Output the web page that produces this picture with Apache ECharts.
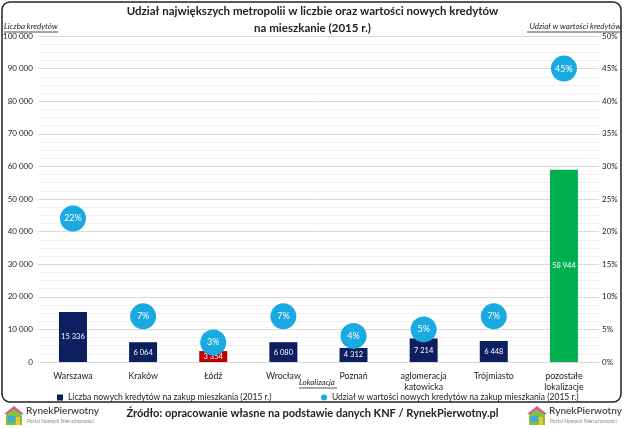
<!DOCTYPE html>
<html>
<head>
<meta charset="utf-8">
<script src="https://cdn.jsdelivr.net/npm/echarts@6/dist/echarts.min.js"></script>
<style>html,body{margin:0;padding:0;background:#fff;}#c{width:625px;height:428px;}</style>
</head>
<body>
<div id="c"></div>
<script>
var categories = ['Warszawa', 'Kraków', 'Łódź', 'Wrocław', 'Poznań', 'aglomeracja\nkatowicka', 'Trójmiasto', 'pozostałe\nlokalizacje'];
var loanCounts = [15336, 6064, 3354, 6080, 4312, 7214, 6448, 58944];
var valueShares = [0.22, 0.07, 0.03, 0.07, 0.04, 0.05, 0.07, 0.45];
var barSeriesName = 'Liczba nowych kredytów na zakup mieszkania (2015 r.)';
var shareSeriesName = 'Udział w wartości nowych kredytów na zakup mieszkania (2015 r.)';
var titleText = 'Udział największych metropolii w liczbie oraz wartości nowych kredytów\nna mieszkanie (2015 r.)';
var sourceText = 'Źródło: opracowanie własne na podstawie danych KNF / RynekPierwotny.pl';

var NAVY = '#0c1f5e', RED = '#c00000', GREEN = '#00b050', BLUE = '#1aaae2';
var barColors = [NAVY, NAVY, RED, NAVY, NAVY, NAVY, NAVY, GREEN];
var FONT = 'Lato';

function fmtNum(v) { return String(Math.round(v)).replace(/\B(?=(\d{3})+(?!\d))/g, ' '); }

function logo(x, y) {
  return {
    type: 'group', left: x, top: y,
    children: [
      { type: 'polygon', shape: { points: [[2, 9], [10, 3], [18, 9], [18, 20], [2, 20]] }, style: { fill: '#7fc241' } },
      { type: 'polygon', shape: { points: [[0, 9], [10, 1], [20, 9], [17, 9], [10, 4], [3, 9]] }, style: { fill: '#e0529c' } },
      { type: 'rect', shape: { x: 4, y: 11, width: 7, height: 6 }, style: { fill: '#3fa9e0' } },
      { type: 'rect', shape: { x: 12, y: 12, width: 4, height: 8 }, style: { fill: '#f3c623' } },
      { type: 'text', left: 22, top: 1, style: { text: 'RynekPierwotny', font: '600 10px ' + FONT, fill: '#444' } },
      { type: 'text', left: 23, top: 14, style: { text: 'Portal Nowych Nieruchomości', font: '5px ' + FONT, fill: '#888' } }
    ]
  };
}

var chart = echarts.init(document.getElementById('c'), null, { renderer: 'canvas' });
chart.setOption({
  animation: false,
  backgroundColor: '#fff',
  textStyle: { fontFamily: FONT },
  title: {
    text: titleText, left: 'center', top: 0, padding: [3, 5],
    textStyle: { fontFamily: FONT, fontSize: 11.5, fontWeight: 'bold', color: '#222', lineHeight: 17, align: 'center' }
  },
  grid: { left: 37, right: 26, top: 36, bottom: 66 },
  legend: [
    { data: [{ name: barSeriesName, icon: 'rect' }], left: 52, top: 388, itemWidth: 6, itemHeight: 6, itemGap: 3,
      textStyle: { fontFamily: FONT, fontSize: 8.5, color: '#222' } },
    { data: [{ name: shareSeriesName, icon: 'circle' }], left: 316, top: 388, itemWidth: 6, itemHeight: 6, itemGap: 3,
      textStyle: { fontFamily: FONT, fontSize: 8.5, color: '#222' } }
  ],
  xAxis: {
    type: 'category', data: categories,
    axisLine: { show: true, lineStyle: { color: '#d9d9d9' } },
    axisTick: { show: false },
    axisLabel: { interval: 0, fontFamily: FONT, fontSize: 8.8, color: '#222', lineHeight: 11.5, margin: 8 }
  },
  yAxis: [
    { type: 'value', min: 0, max: 100000, interval: 10000,
      axisLine: { show: false }, axisTick: { show: false },
      axisLabel: { fontFamily: FONT, fontSize: 8, color: '#222', margin: 5, formatter: fmtNum },
      splitLine: { lineStyle: { color: '#d9d9d9', width: 1 } },
      minorTick: { show: false, splitNumber: 4 },
      minorSplitLine: { show: true, lineStyle: { color: '#efefef', width: 1 } }
    },
    { type: 'value', min: 0, max: 0.5, interval: 0.05,
      axisLine: { show: false }, axisTick: { show: false },
      axisLabel: { fontFamily: FONT, fontSize: 8, color: '#222', margin: 3, formatter: function (v) { return Math.round(v * 100) + '%'; } },
      splitLine: { show: false }
    }
  ],
  series: [
    { name: barSeriesName, type: 'bar', barWidth: 28, yAxisIndex: 0,
      itemStyle: { color: NAVY },
      data: loanCounts.map(function (v, i) { return { value: v, itemStyle: { color: barColors[i] } }; }),
      label: { show: true, position: 'inside', color: '#fff', fontFamily: FONT, fontSize: 7.5,
        formatter: function (p) { return fmtNum(p.value); } }
    },
    { name: shareSeriesName, type: 'scatter', yAxisIndex: 1, symbol: 'circle', symbolSize: 26, z: 5,
      itemStyle: { color: BLUE, opacity: 1 },
      data: valueShares,
      label: { show: true, position: 'inside', color: '#fff', fontFamily: FONT, fontSize: 9,
        formatter: function (p) { return Math.round(p.value * 100) + '%'; } }
    }
  ],
  graphic: [
    { type: 'rect', z: -1, shape: { x: 2, y: 2, width: 619, height: 400, r: 8 }, style: { fill: 'none', stroke: '#222', lineWidth: 1.5 } },
    { type: 'text', left: 4, top: 22, style: { text: 'Liczba kredytów', font: 'italic 8px ' + FONT, fill: '#222' } },
    { type: 'line', shape: { x1: 4, y1: 32, x2: 58, y2: 32 }, style: { stroke: '#222', lineWidth: 0.8 } },
    { type: 'text', right: 4, top: 22, style: { text: 'Udział w wartości kredytów', font: 'italic 8px ' + FONT, fill: '#222' } },
    { type: 'line', shape: { x1: 527, y1: 32, x2: 620, y2: 32 }, style: { stroke: '#222', lineWidth: 0.8 } },
    { type: 'text', left: 299, top: 378, style: { text: 'Lokalizacja', font: 'italic 8px ' + FONT, fill: '#222' } },
    { type: 'line', shape: { x1: 299, y1: 388, x2: 337, y2: 388 }, style: { stroke: '#222', lineWidth: 0.8 } },
    { type: 'text', left: 'center', top: 408, style: { text: sourceText, font: 'bold 11px ' + FONT, fill: '#222' } },
    logo(4, 406),
    logo(527, 406)
  ]
});
</script>
</body>
</html>
